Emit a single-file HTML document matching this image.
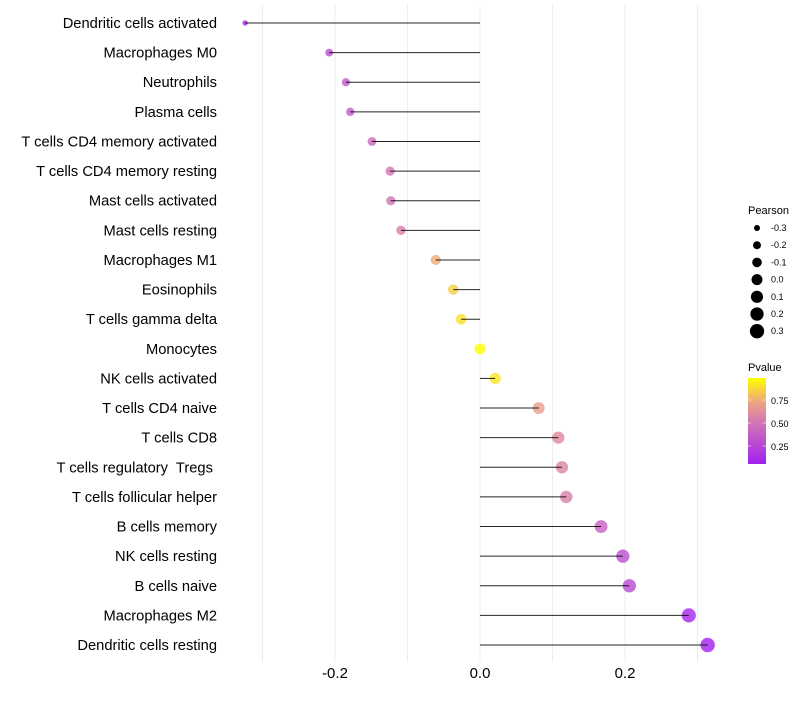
<!DOCTYPE html>
<html><head><meta charset="utf-8"><style>
body{margin:0;background:#fff;font-family:"Liberation Sans",sans-serif}
text{white-space:pre}
</style></head><body>
<svg id="chart" width="800" height="700" xmlns="http://www.w3.org/2000/svg">
<defs>
<linearGradient id="pg" x1="0" y1="1" x2="0" y2="0">
<stop offset="0" stop-color="#A020F0"/>
<stop offset="0.45" stop-color="#D070B8"/>
<stop offset="0.7" stop-color="#EBA088"/>
<stop offset="1" stop-color="#FFFF00"/>
</linearGradient>
</defs>
<g id="grid"></g>
<g id="dots"></g>
<g id="marks"></g>
<g id="labels"></g>
<g id="xticks"></g>
<g id="legP">
<text x="748" y="214" font-size="11" fill="#000">Pearson</text>
</g>
<g>
<text x="748" y="371" font-size="11" fill="#000">Pvalue</text>
<rect x="748" y="378" width="18" height="86" fill="url(#pg)"/>
<line x1="748" y1="400" x2="751" y2="400" stroke="#fff" stroke-opacity="0.6"/><line x1="763" y1="400" x2="766" y2="400" stroke="#fff" stroke-opacity="0.6"/>
<line x1="748" y1="423" x2="751" y2="423" stroke="#fff" stroke-opacity="0.6"/><line x1="763" y1="423" x2="766" y2="423" stroke="#fff" stroke-opacity="0.6"/>
<line x1="748" y1="446" x2="751" y2="446" stroke="#fff" stroke-opacity="0.6"/><line x1="763" y1="446" x2="766" y2="446" stroke="#fff" stroke-opacity="0.6"/>
<text x="771" y="404" font-size="9">0.75</text>
<text x="771" y="427" font-size="9">0.50</text>
<text x="771" y="450" font-size="9">0.25</text>
</g>
</svg>
<script>
const categories=["Dendritic cells activated","Macrophages M0","Neutrophils","Plasma cells","T cells CD4 memory activated","T cells CD4 memory resting","Mast cells activated","Mast cells resting","Macrophages M1","Eosinophils","T cells gamma delta","Monocytes","NK cells activated","T cells CD4 naive","T cells CD8","T cells regulatory  Tregs ","T cells follicular helper","B cells memory","NK cells resting","B cells naive","Macrophages M2","Dendritic cells resting"];
const pearson=[-0.324,-0.208,-0.185,-0.179,-0.149,-0.124,-0.123,-0.109,-0.061,-0.037,-0.026,0.0,0.021,0.081,0.108,0.113,0.119,0.167,0.197,0.206,0.288,0.314];
const pvalues=[0.1,0.3,0.35,0.37,0.45,0.5,0.5,0.55,0.75,0.85,0.9,1.0,0.92,0.7,0.6,0.58,0.56,0.4,0.3,0.28,0.1,0.07];
const xTicks=[-0.2,0.0,0.2];
const xTickLabels=["-0.2","0.0","0.2"];
const legendVals=[-0.3,-0.2,-0.1,0.0,0.1,0.2,0.3];
const legendLabels=["-0.3","-0.2","-0.1","0.0","0.1","0.2","0.3"];
const NS="http://www.w3.org/2000/svg";
const xs=v=>480+v*725;
const ys=i=>23+i*(622/21);
const rs=v=>Math.sqrt(Math.max(4,30+70*v));
function lerp(a,b,t){return a+(b-a)*t}
const stops=[[0,[160,32,240]],[0.45,[208,112,184]],[0.7,[235,160,136]],[1,[255,255,0]]];
function pcol(p){const t=Math.max(0,Math.min(1,(p-0.065)/(0.99-0.065)));
for(let k=0;k<stops.length-1;k++){const[a,ca]=stops[k],[b,cb]=stops[k+1];if(t<=b){const u=(t-a)/(b-a);return`rgb(${ca.map((c,j)=>Math.round(lerp(c,cb[j],u))).join(",")})`;}}return"rgb(255,255,0)";}
function mk(tag,attrs,parent){const e=document.createElementNS(NS,tag);for(const k in attrs)e.setAttribute(k,attrs[k]);parent.appendChild(e);return e;}
const grid=document.getElementById('grid');
[-0.3,-0.2,-0.1,0,0.1,0.2,0.3].forEach(v=>{const l=mk('line',{x1:xs(v),x2:xs(v),y1:5,y2:662,stroke:"#ececec","stroke-width":1},grid);

});
const marks=document.getElementById('marks'),dots=document.getElementById('dots'),labels=document.getElementById('labels');
categories.forEach((c,i)=>{const y=ys(i);
const d=mk('circle',{cx:xs(pearson[i]),cy:y,r:rs(pearson[i]),fill:pcol(pvalues[i]),"fill-opacity":0.8},dots);


const l=mk('line',{x1:xs(0),x2:xs(pearson[i]),y1:y,y2:y,stroke:"#000","stroke-width":1,"stroke-opacity":0.85},marks);


const t=mk('text',{x:217,y:y+5,"text-anchor":"end","font-size":14.7,fill:"#000"},labels);t.textContent=c;

});
const xt=document.getElementById('xticks');
xTicks.forEach((v,i)=>{const t=mk('text',{x:xs(v),y:678,"text-anchor":"middle","font-size":15,fill:"#000"},xt);t.textContent=xTickLabels[i];

});
const lp=document.getElementById('legP');
legendVals.forEach((v,i)=>{const y=228+i*17.2;
const c=mk('circle',{cx:757,cy:y,r:rs(v),fill:"#000"},lp);


const t=mk('text',{x:771,y:y+3,"font-size":9},lp);t.textContent=legendLabels[i];

});
</script>
</body></html>
